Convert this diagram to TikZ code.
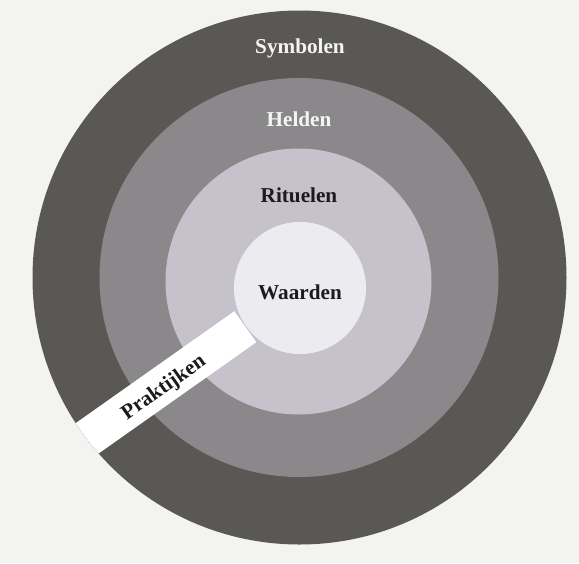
\documentclass[tikz,border=0pt]{standalone}
\usepackage{fontspec}
\setmainfont{Liberation Serif}
\definecolor{bgcol}{HTML}{F3F3F1}
\definecolor{ringA}{HTML}{5A5855}
\definecolor{ringB}{HTML}{8A888B}
\definecolor{ringC}{HTML}{C6C2CB}
\definecolor{ringD}{HTML}{ECEBF0}
\definecolor{darktext}{HTML}{1C1A1C}
\definecolor{lighttext}{HTML}{F4F4F4}
\begin{document}
\begin{tikzpicture}[x=0.5pt,y=-0.5pt,
  lbl/.style={font=\fontsize{10.6}{12}\selectfont\bfseries, inner sep=0pt},
  lightlbl/.style={lbl, text=lighttext},
  darklbl/.style={lbl, text=darktext}]
\useasboundingbox[fill=bgcol] (0,0) rectangle (579,563);
% rings
\fill[ringA] (299.5,277.5) circle [radius=267];
\fill[ringB] (299,277.5) circle [radius=199.5];
\fill[ringC] (298.5,281.5) circle [radius=133];
\fill[ringD] (300,288) circle [radius=66];
% banner
\begin{scope}
\clip (299.5,277.5) circle [radius=267];
\fill[white] (234.3,311.2) -- (256.3,342.2) -- (74.1,470.8) -- (52.1,439.8) -- cycle;
\end{scope}
% labels
\node[lightlbl] (symbolen) at (300,48) {Symbolen};
\node[lightlbl] (helden) at (299,119) {Helden};
\node[darklbl] (rituelen) at (299,195) {Rituelen};
\node[darklbl] (waarden) at (300,292) {Waarden};
\node[darklbl, rotate=35.2] (praktijken) at (164,388) {Praktijken};
\end{tikzpicture}
\end{document}
